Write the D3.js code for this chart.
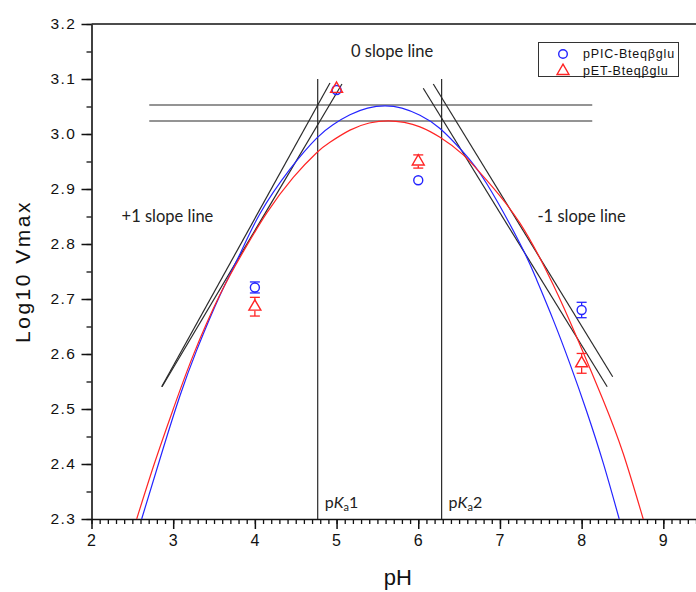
<!DOCTYPE html>
<html>
<head>
<meta charset="utf-8">
<script src="https://cdn.jsdelivr.net/npm/d3@7"></script>
<style>
  body { margin: 0; background: #fff; }
  svg { display: block; }
</style>
</head>
<body>
<div id="chart"></div>
<script>
// ---------------- DATA ----------------
const xTicks = [2, 3, 4, 5, 6, 7, 8, 9];
const yTicks = [2.3, 2.4, 2.5, 2.6, 2.7, 2.8, 2.9, 3.0, 3.1, 3.2];

const pH = [4, 5, 6, 8];
const picVmax = [2.721, 3.080, 2.916, 2.680];
const picErr = [0.010, 0, 0, 0.014];
const petVmax = [2.686, 3.082, 2.950, 2.583];
const petErr = [0.017, 0, 0.012, 0.018];

// fitted curves as [pH, log10 Vmax]
const picFit = [
  [2.614, 2.300], [2.879, 2.429], [3.083, 2.524], [3.288, 2.607], [3.573, 2.707],
  [3.818, 2.782], [4.062, 2.855], [4.430, 2.936], [4.760, 2.993], [4.956, 3.017],
  [5.164, 3.035], [5.380, 3.047], [5.592, 3.051], [5.800, 3.047], [6.021, 3.034],
  [6.266, 3.010], [6.551, 2.967], [6.837, 2.910], [7.245, 2.801], [7.449, 2.735],
  [7.652, 2.662], [7.857, 2.582], [8.061, 2.496], [8.264, 2.402], [8.460, 2.300]
];
const petFit = [
  [2.553, 2.300], [2.777, 2.404], [3.001, 2.500], [3.246, 2.598], [3.573, 2.708],
  [3.858, 2.786], [4.144, 2.856], [4.470, 2.921], [4.756, 2.966], [4.919, 2.985],
  [5.164, 3.007], [5.400, 3.020], [5.633, 3.024], [5.830, 3.021], [6.021, 3.013],
  [6.266, 2.994], [6.551, 2.962], [6.837, 2.916], [7.245, 2.838], [7.652, 2.726],
  [7.939, 2.631], [8.264, 2.516], [8.509, 2.419], [8.754, 2.300]
];

// guide lines
const slopeLines = [
  [[2.859, 2.5405], [4.919, 3.0927]],
  [[2.863, 2.5405], [5.066, 3.0909]],
  [[6.061, 3.0831], [8.313, 2.5405]],
  [[6.184, 3.0909], [8.380, 2.5587]]
];
const zeroSlopeLines = [3.0527, 3.0236];
const zeroSlopeRange = [2.707, 8.13];
const pKaValues = [4.769, 6.286];
const pKaTop = 3.1;

const seriesNames = ["pPIC-Bteq\u03b2glu", "pET-Bteq\u03b2glu"];
const blue = "#2424ff";
const red = "#ff2424";

// ---------------- CHART ----------------
const width = 696;
const height = 592;

const svg = d3.select("#chart").append("svg")
  .attr("width", width)
  .attr("height", height);

const x = d3.scaleLinear().domain([2, 9.4]).range([91.5, 696]);
const y = d3.scaleLinear().domain([2.3, 3.2]).range([519, 24]);

const tickFont = "'Liberation Sans', Arial, sans-serif";
const noteFont = "Lato, 'Open Sans', sans-serif";

// top frame line
svg.append("line")
  .attr("x1", x(2)).attr("x2", width)
  .attr("y1", y(3.2)).attr("y2", y(3.2))
  .attr("stroke", "#111").attr("stroke-width", 1.5);

// x axis
const xMinor = d3.range(20, 95).map((d) => d / 10);
svg.append("g")
  .attr("transform", `translate(0,${y(2.3)})`)
  .call(d3.axisBottom(x).tickValues(xMinor).tickSize(5).tickFormat(""))
  .call((g) => g.select(".domain").remove())
  .call((g) => g.selectAll("line").attr("stroke", "#111").attr("stroke-width", 1.3));

const xAxis = svg.append("g")
  .attr("transform", `translate(0,${y(2.3)})`)
  .call(d3.axisBottom(x).tickValues(xTicks).tickSize(10).tickSizeOuter(0).tickPadding(6).tickFormat(d3.format("d")));
xAxis.select(".domain").attr("stroke", "#111").attr("stroke-width", 1.6);
xAxis.selectAll("line").attr("stroke", "#111").attr("stroke-width", 1.5);
xAxis.selectAll("text")
  .attr("font-family", tickFont).attr("font-size", 16).attr("fill", "#111")
  .attr("letter-spacing", "1px");

// y axis
const yMinor = d3.range(0, 19).map((d) => 2.3 + d * 0.05);
svg.append("g")
  .attr("transform", `translate(${x(2)},0)`)
  .call(d3.axisLeft(y).tickValues(yMinor).tickSize(5).tickFormat(""))
  .call((g) => g.select(".domain").remove())
  .call((g) => g.selectAll("line").attr("stroke", "#111").attr("stroke-width", 1.3));

const yAxis = svg.append("g")
  .attr("transform", `translate(${x(2)},0)`)
  .call(d3.axisLeft(y).tickValues(yTicks).tickSize(10).tickSizeOuter(0).tickPadding(5).tickFormat(d3.format(".1f")));
yAxis.select(".domain").attr("stroke", "#111").attr("stroke-width", 1.6);
yAxis.selectAll("line").attr("stroke", "#111").attr("stroke-width", 1.5);
yAxis.selectAll("text")
  .attr("font-family", tickFont).attr("font-size", 15.5).attr("fill", "#111")
  .attr("letter-spacing", "1.5px");

// axis titles
svg.append("text")
  .attr("x", x(5.75)).attr("y", 585)
  .attr("text-anchor", "middle")
  .attr("font-family", tickFont).attr("font-size", 22).attr("fill", "#111")
  .text("pH");

svg.append("text")
  .attr("transform", `translate(30,${y(2.75)}) rotate(-90)`)
  .attr("text-anchor", "middle")
  .attr("font-family", tickFont).attr("font-size", 21).attr("fill", "#111")
  .attr("letter-spacing", "2.5px")
  .text("Log10 Vmax");

// ---------------- GUIDE LINES ----------------
const guides = svg.append("g")
  .attr("stroke", "#2a2a2a").attr("stroke-width", 1.2).attr("fill", "none");

zeroSlopeLines.forEach((v) => {
  guides.append("line")
    .attr("x1", x(zeroSlopeRange[0])).attr("x2", x(zeroSlopeRange[1]))
    .attr("y1", y(v)).attr("y2", y(v));
});

pKaValues.forEach((v) => {
  guides.append("line")
    .attr("x1", x(v)).attr("x2", x(v))
    .attr("y1", y(2.3)).attr("y2", y(pKaTop));
});

slopeLines.forEach((seg) => {
  guides.append("line")
    .attr("x1", x(seg[0][0])).attr("y1", y(seg[0][1]))
    .attr("x2", x(seg[1][0])).attr("y2", y(seg[1][1]));
});

// ---------------- FITTED CURVES ----------------
const line = d3.line()
  .x((d) => x(d[0]))
  .y((d) => y(d[1]))
  .curve(d3.curveNatural);

svg.append("path").datum(picFit)
  .attr("d", line).attr("fill", "none")
  .attr("stroke", blue).attr("stroke-width", 1.2);

svg.append("path").datum(petFit)
  .attr("d", line).attr("fill", "none")
  .attr("stroke", red).attr("stroke-width", 1.2);

// ---------------- DATA POINTS ----------------
// error bars start at the marker edge, like the original plot
function errorBars(vals, errs, color, edge) {
  const g = svg.append("g").attr("stroke", color).attr("stroke-width", 1.3);
  pH.forEach((p, i) => {
    if (!errs[i]) return;
    const cx = x(p);
    const cy = y(vals[i]);
    const lo = y(vals[i] - errs[i]);
    const hi = y(vals[i] + errs[i]);
    if (lo > cy + edge[1]) g.append("line").attr("x1", cx).attr("x2", cx).attr("y1", cy + edge[1]).attr("y2", lo);
    if (hi < cy - edge[0]) g.append("line").attr("x1", cx).attr("x2", cx).attr("y1", cy - edge[0]).attr("y2", hi);
    g.append("line").attr("x1", cx - 5).attr("x2", cx + 5).attr("y1", lo).attr("y2", lo);
    g.append("line").attr("x1", cx - 5).attr("x2", cx + 5).attr("y1", hi).attr("y2", hi);
  });
}

errorBars(picVmax, picErr, blue, [4.5, 4.5]);
errorBars(petVmax, petErr, red, [6, 4]);

svg.append("g").selectAll("circle")
  .data(pH)
  .join("circle")
  .attr("cx", (d) => x(d))
  .attr("cy", (d, i) => y(picVmax[i]))
  .attr("r", 4.5)
  .attr("fill", "none").attr("stroke", blue).attr("stroke-width", 1.4);

const tri = d3.symbol(d3.symbolTriangle, 62);
svg.append("g").selectAll("path")
  .data(pH)
  .join("path")
  .attr("d", tri)
  .attr("transform", (d, i) => `translate(${x(d)},${y(petVmax[i])})`)
  .attr("fill", "none").attr("stroke", red).attr("stroke-width", 1.4);

// ---------------- ANNOTATIONS ----------------
const notes = [
  { text: "0 slope line", px: 5.68, v: 3.14 },
  { text: "+1 slope line", px: 2.93, v: 2.84 },
  { text: "-1 slope line", px: 8.0, v: 2.84 }
];
svg.append("g").selectAll("text")
  .data(notes)
  .join("text")
  .attr("x", (d) => x(d.px)).attr("y", (d) => y(d.v))
  .attr("text-anchor", "middle")
  .attr("font-family", noteFont).attr("font-size", 16.5).attr("fill", "#222")
  .text((d) => d.text);

pKaValues.forEach((v, i) => {
  const t = svg.append("text")
    .attr("x", x(v) + 7).attr("y", 508)
    .attr("font-family", noteFont).attr("font-size", 16).attr("fill", "#222");
  t.append("tspan").text("p");
  t.append("tspan").attr("font-style", "italic").text("K");
  t.append("tspan").attr("font-size", 11).attr("dy", 3).text("a");
  t.append("tspan").attr("dy", -3).text(i + 1);
});

// ---------------- LEGEND ----------------
const legend = svg.append("g");
legend.append("rect")
  .attr("x", 538.5).attr("y", 42.5).attr("width", 140).attr("height", 34)
  .attr("fill", "#fff").attr("stroke", "#333").attr("stroke-width", 1);

legend.append("circle")
  .attr("cx", 563).attr("cy", 54).attr("r", 4.3)
  .attr("fill", "none").attr("stroke", blue).attr("stroke-width", 1.4);
legend.append("path")
  .attr("d", tri).attr("transform", "translate(563,71)")
  .attr("fill", "none").attr("stroke", red).attr("stroke-width", 1.4);

legend.selectAll("text.lbl")
  .data(seriesNames)
  .join("text")
  .attr("class", "lbl")
  .attr("x", 583).attr("y", (d, i) => 58 + i * 17)
  .attr("font-family", tickFont).attr("font-size", 12.5).attr("fill", "#111")
  .attr("letter-spacing", "0.8px")
  .text((d) => d);
</script>
</body>
</html>
